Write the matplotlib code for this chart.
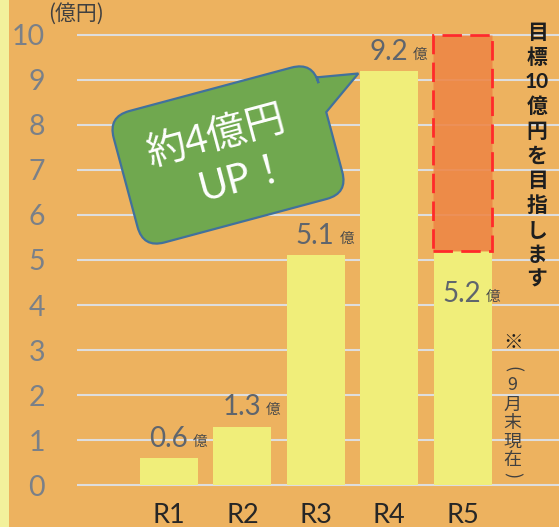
import numpy as np
import matplotlib
matplotlib.use('Agg')
import matplotlib.pyplot as plt
import matplotlib.transforms as mtransforms
from matplotlib.path import Path
from matplotlib.patches import PathPatch, Rectangle

plt.rcParams['font.family'] = ['Lato', 'Noto Sans CJK JP', 'DejaVu Sans']

# data
categories = ['R1', 'R2', 'R3', 'R4', 'R5']
values = [0.6, 1.3, 5.1, 9.2, 5.2]
value_labels = ['0.6', '1.3', '5.1', '9.2', '5.2']
target = 10
y_ticks = list(range(0, 11))

W, H = 559, 527
bg = '#edb25f'
bar_col = '#f0ee7a'
tick_gray = '#7a8088'
label_gray = '#5f656d'

fig = plt.figure(figsize=(W / 100, H / 100), dpi=100)
fig.patch.set_facecolor(bg)

def px(x, y):
    # image pixel -> figure fraction
    return x / W, 1 - y / H

# pale strip on the left
fig.patches.append(Rectangle((0, 0), 9 / W, 1, transform=fig.transFigure,
                             facecolor='#f2f19c', edgecolor='none', zorder=0))

ax = fig.add_axes([77 / W, 27 / H, 482 / W, 480 / H])
ax.set_facecolor(bg)
ax.set_xlim(-1.253, 5.313)
ax.set_ylim(-0.333, 10.333)
for s in ax.spines.values():
    s.set_visible(False)

ax.set_yticks(y_ticks)
ax.set_yticklabels([str(t) for t in y_ticks])
ax.tick_params(axis='y', length=0, pad=23, labelsize=20.5, labelcolor=tick_gray)
ax.set_xticks(range(len(categories)))
ax.set_xticklabels(categories)
ax.tick_params(axis='x', length=0, pad=2, labelsize=19.5, labelcolor='#262626')
ax.yaxis.grid(True, color='#dedede', linewidth=1.5)
ax.set_axisbelow(True)

x = np.arange(len(categories))
ax.bar(x, values, width=0.79, color=bar_col, zorder=2)

# target box for R5
ax.bar(x[-1], target - values[-1], bottom=values[-1], width=0.81,
       facecolor=(0.933, 0.525, 0.27, 0.88), edgecolor='#ff2a2a',
       linewidth=2, linestyle=(0, (7, 3)), zorder=3)

# value labels
for i, (v, lab) in enumerate(zip(values, value_labels)):
    dy = 8 if i < len(values) - 1 else -37
    ax.annotate(lab, (x[i], v), xytext=(13.5, dy), textcoords='offset points',
                ha='right', va='baseline', fontsize=20, color=label_gray, zorder=5)
    ax.annotate('億', (x[i], v), xytext=(17, dy + 1), textcoords='offset points',
                ha='left', va='baseline', fontsize=10.5, color='#4a4a4a', zorder=5)

# unit
fig.text(*px(76, 14), '(億円)', ha='center', va='center', fontsize=15,
         color='#404040', family=['Noto Sans CJK JP'])

# speech bubble
w2, h2, r = 106, 68, 22
verts = [(-w2 + r, -h2), (w2 - r, -h2), (w2, -h2), (w2, -h2 + r),
         (w2, 16), (147, 45), (w2, 52), (w2, h2 - r), (w2, h2), (w2 - r, h2),
         (-w2 + r, h2), (-w2, h2), (-w2, h2 - r), (-w2, -h2 + r), (-w2, -h2),
         (-w2 + r, -h2), (-w2 + r, -h2)]
codes = [Path.MOVETO, Path.LINETO, Path.CURVE3, Path.CURVE3,
         Path.LINETO, Path.LINETO, Path.LINETO, Path.LINETO, Path.CURVE3, Path.CURVE3,
         Path.LINETO, Path.CURVE3, Path.CURVE3, Path.LINETO, Path.CURVE3,
         Path.CURVE3, Path.CLOSEPOLY]
trans = mtransforms.Affine2D().rotate_deg(15).translate(228, H - 155)
bubble = PathPatch(Path(verts, codes), facecolor='#70a84f', edgecolor='#41719c',
                   linewidth=1.6, transform=trans, zorder=10)
fig.patches.append(bubble)
fig.text(*px(216, 136), '約4億円', ha='center', va='center', rotation=15,
         rotation_mode='anchor', fontsize=28.5, color='white', zorder=11)
fig.text(*px(244, 178), 'UP！', ha='center', va='center', rotation=15,
         rotation_mode='anchor', fontsize=28.5, color='white', zorder=11)

# vertical note on the right
goal_chars = ['目', '標', '10', '億', '円', 'を', '目', '指', 'し', 'ま', 'す']
for k, ch in enumerate(goal_chars):
    fig.text(*px(537, 33 + k * 24.7), ch, ha='center', va='center',
             fontsize=15, fontweight='bold', color='#1e1e1e')

fig.text(*px(513, 342), '※', ha='center', va='center', fontsize=14,
         color='#1e1e1e', family=['Noto Sans CJK JP'])
note_chars = ['(', '9', '月', '末', '現', '在', ')']
note_rot = [270, 0, 0, 0, 0, 0, 270]
note_y = [369, 385, 405, 423, 442, 460, 475]
for ch, yy, rot in zip(note_chars, note_y, note_rot):
    fig.text(*px(512, yy), ch, ha='center', va='center', fontsize=13,
             rotation=rot, color='#404040', family=['Noto Sans CJK JP'])

fig.savefig('out.png', dpi=100, facecolor=bg)
